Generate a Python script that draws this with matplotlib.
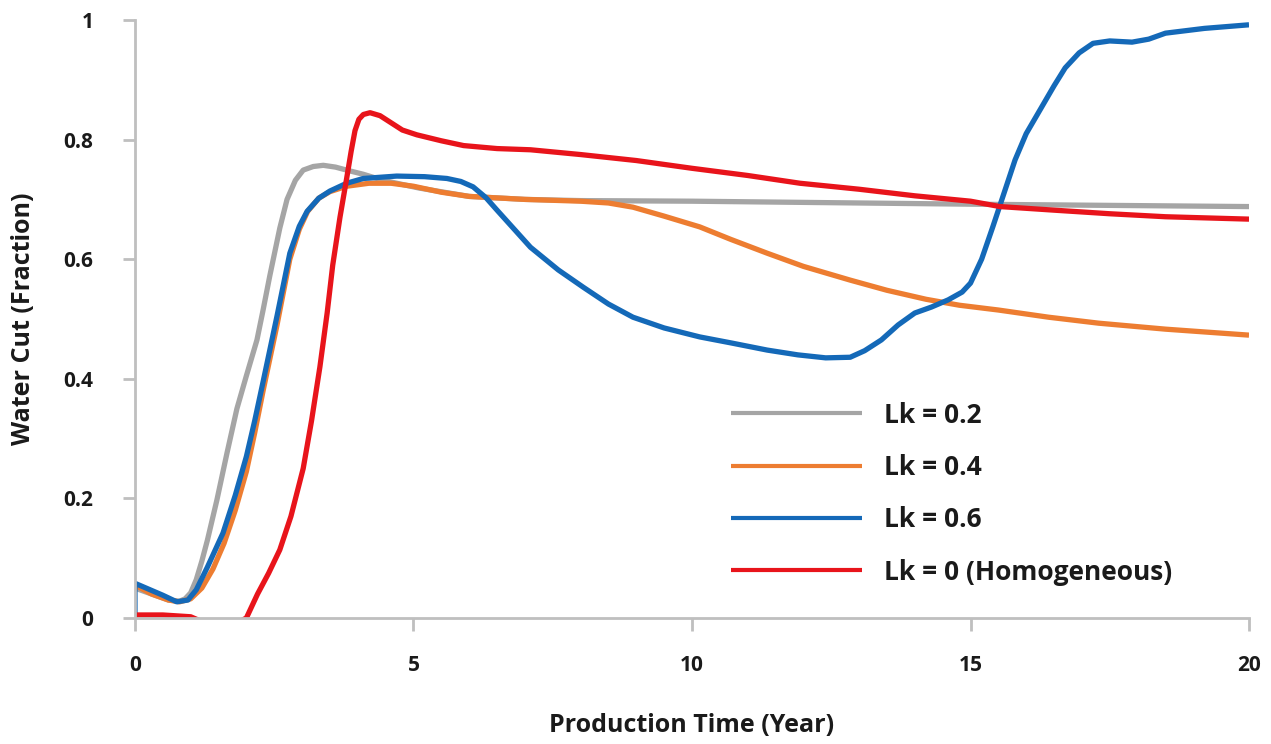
"""Water cut vs production time for different Lk values"""
import matplotlib
matplotlib.use("Agg")
import matplotlib.pyplot as plt

plt.rcParams['font.family'] = ['Open Sans', 'DejaVu Sans']
plt.rcParams['font.weight'] = 'bold'

#%% data
years_02 = [0, 0.3, 0.6, 0.8, 0.9, 1.0, 1.1, 1.2, 1.3, 1.47, 1.65, 1.83, 2.0, 2.19, 2.3, 2.42,
            2.6, 2.73, 2.88, 3.02, 3.2, 3.38, 3.6, 3.8, 4.1, 4.45, 5.1, 6.0, 7.0, 8.0, 10.0,
            12.0, 15.0, 17.5, 20.0]
wc_02 = [0.05, 0.04, 0.03, 0.028, 0.032, 0.042, 0.064, 0.095, 0.13, 0.197, 0.275, 0.35, 0.405,
         0.465, 0.515, 0.572, 0.652, 0.70, 0.732, 0.749, 0.755, 0.757, 0.754, 0.749, 0.742,
         0.732, 0.719, 0.705, 0.700, 0.698, 0.697, 0.695, 0.692, 0.690, 0.688]

years_04 = [0, 0.3, 0.6, 0.8, 1.0, 1.2, 1.4, 1.6, 1.8, 2.0, 2.15, 2.3, 2.55, 2.78, 2.95, 3.1,
            3.3, 3.5, 3.8, 4.2, 4.6, 5.0, 5.5, 6.0, 7.0, 8.0, 8.5, 8.94, 9.5, 10.14, 10.7,
            11.35, 12.0, 12.84, 13.5, 14.2, 14.8, 15.5, 16.4, 17.3, 18.5, 20.0]
wc_04 = [0.055, 0.04, 0.03, 0.027, 0.032, 0.05, 0.082, 0.125, 0.18, 0.245, 0.31, 0.38, 0.49,
         0.6, 0.65, 0.68, 0.702, 0.713, 0.722, 0.727, 0.727, 0.722, 0.712, 0.705, 0.700,
         0.697, 0.694, 0.687, 0.672, 0.654, 0.633, 0.61, 0.588, 0.565, 0.548, 0.533, 0.523,
         0.515, 0.503, 0.493, 0.483, 0.473]

years_06 = [0, 0, 0.2, 0.5, 0.75, 0.95, 1.1, 1.3, 1.58, 1.8, 2.0, 2.15, 2.3, 2.55, 2.78, 2.95,
            3.09, 3.3, 3.5, 3.8, 4.1, 4.7, 5.2, 5.6, 5.85, 6.07, 6.3, 6.5, 6.8, 7.1, 7.6, 8.05,
            8.5, 8.94, 9.5, 10.14, 10.7, 11.35, 11.9, 12.4, 12.84, 13.1, 13.4, 13.7, 14.0, 14.3,
            14.6, 14.85, 15.0, 15.2, 15.4, 15.6, 15.8, 16.0, 16.25, 16.5, 16.7, 16.95, 17.2,
            17.5, 17.9, 18.2, 18.5, 19.2, 20.0]
wc_06 = [0.0, 0.058, 0.05, 0.038, 0.027, 0.03, 0.047, 0.085, 0.142, 0.205, 0.27, 0.33, 0.395,
         0.505, 0.61, 0.655, 0.68, 0.702, 0.714, 0.727, 0.735, 0.739, 0.738, 0.735, 0.73,
         0.721, 0.703, 0.682, 0.651, 0.62, 0.582, 0.553, 0.525, 0.503, 0.485, 0.47, 0.46,
         0.448, 0.44, 0.435, 0.436, 0.447, 0.465, 0.49, 0.51, 0.52, 0.532, 0.545, 0.56, 0.6,
         0.654, 0.71, 0.766, 0.81, 0.85, 0.89, 0.92, 0.945, 0.961, 0.965, 0.963, 0.968,
         0.978, 0.986, 0.992]

years_00 = [0, 0.5, 1.0, 1.3, 1.6, 1.9, 2.0, 2.2, 2.4, 2.6, 2.8, 3.02, 3.17, 3.32, 3.45, 3.55,
            3.68, 3.8, 3.88, 3.95, 4.02, 4.1, 4.22, 4.4, 4.6, 4.8, 5.06, 5.5, 5.9, 6.5, 7.1,
            8.0, 9.0, 10.0, 11.0, 11.94, 13.0, 14.0, 15.0, 15.53, 16.5, 17.5, 18.5, 20.0]
wc_00 = [0.005, 0.005, 0.002, -0.01, -0.03, -0.005, 0.0, 0.04, 0.075, 0.114, 0.17, 0.25, 0.33,
         0.42, 0.51, 0.59, 0.67, 0.735, 0.78, 0.815, 0.834, 0.842, 0.845, 0.84, 0.828, 0.816,
         0.808, 0.798, 0.79, 0.785, 0.783, 0.775, 0.765, 0.752, 0.74, 0.727, 0.717, 0.706,
         0.697, 0.688, 0.682, 0.676, 0.671, 0.667]

labels = ['Lk = 0.2', 'Lk = 0.4', 'Lk = 0.6', 'Lk = 0 (Homogeneous)']
colors = ['#A5A5A5', '#ED7D31', '#1469B8', '#E8141B']

#%% plot
fig = plt.figure(figsize=(12.71, 7.44), dpi=100)
ax = fig.add_axes([0.1062, 0.1694, 0.8765, 0.8037])

series = [(years_02, wc_02), (years_04, wc_04), (years_06, wc_06), (years_00, wc_00)]
for (x, y), lab, col in zip(series, labels, colors):
    ax.plot(x, y, color=col, lw=3.8, label=lab, solid_capstyle='butt', solid_joinstyle='round')

ax.set_xlim(0, 20)
ax.set_ylim(0, 1)
ax.set_xticks([0, 5, 10, 15, 20])
ax.set_yticks([0, 0.2, 0.4, 0.6, 0.8, 1])
ax.set_yticklabels(['0', '0.2', '0.4', '0.6', '0.8', '1'])

for side in ['top', 'right']:
    ax.spines[side].set_visible(False)
for side in ['left', 'bottom']:
    ax.spines[side].set_color('#BFBFBF')
    ax.spines[side].set_linewidth(2)
ax.tick_params(axis='both', colors='#BFBFBF', width=2, length=9, labelcolor='#1a1a1a',
               labelsize=15)
ax.tick_params(axis='x', pad=18)
ax.tick_params(axis='y', pad=21)

ax.set_xlabel('Production Time (Year)', fontsize=18, fontweight='bold', color='#1a1a1a',
              labelpad=26)
ax.set_ylabel('Water Cut (Fraction)', fontsize=18, fontweight='bold', color='#1a1a1a',
              labelpad=20)

leg = ax.legend(loc='upper left', bbox_to_anchor=(0.535, 0.362), frameon=False, fontsize=19,
                handlelength=4.96, handletextpad=0.83, labelspacing=0.96, borderpad=0,
                borderaxespad=0)
for line in leg.get_lines():
    line.set_linewidth(3)
for t in leg.get_texts():
    t.set_color('#1a1a1a')
    t.set_fontweight('bold')

fig.savefig('out.png', dpi=100)
